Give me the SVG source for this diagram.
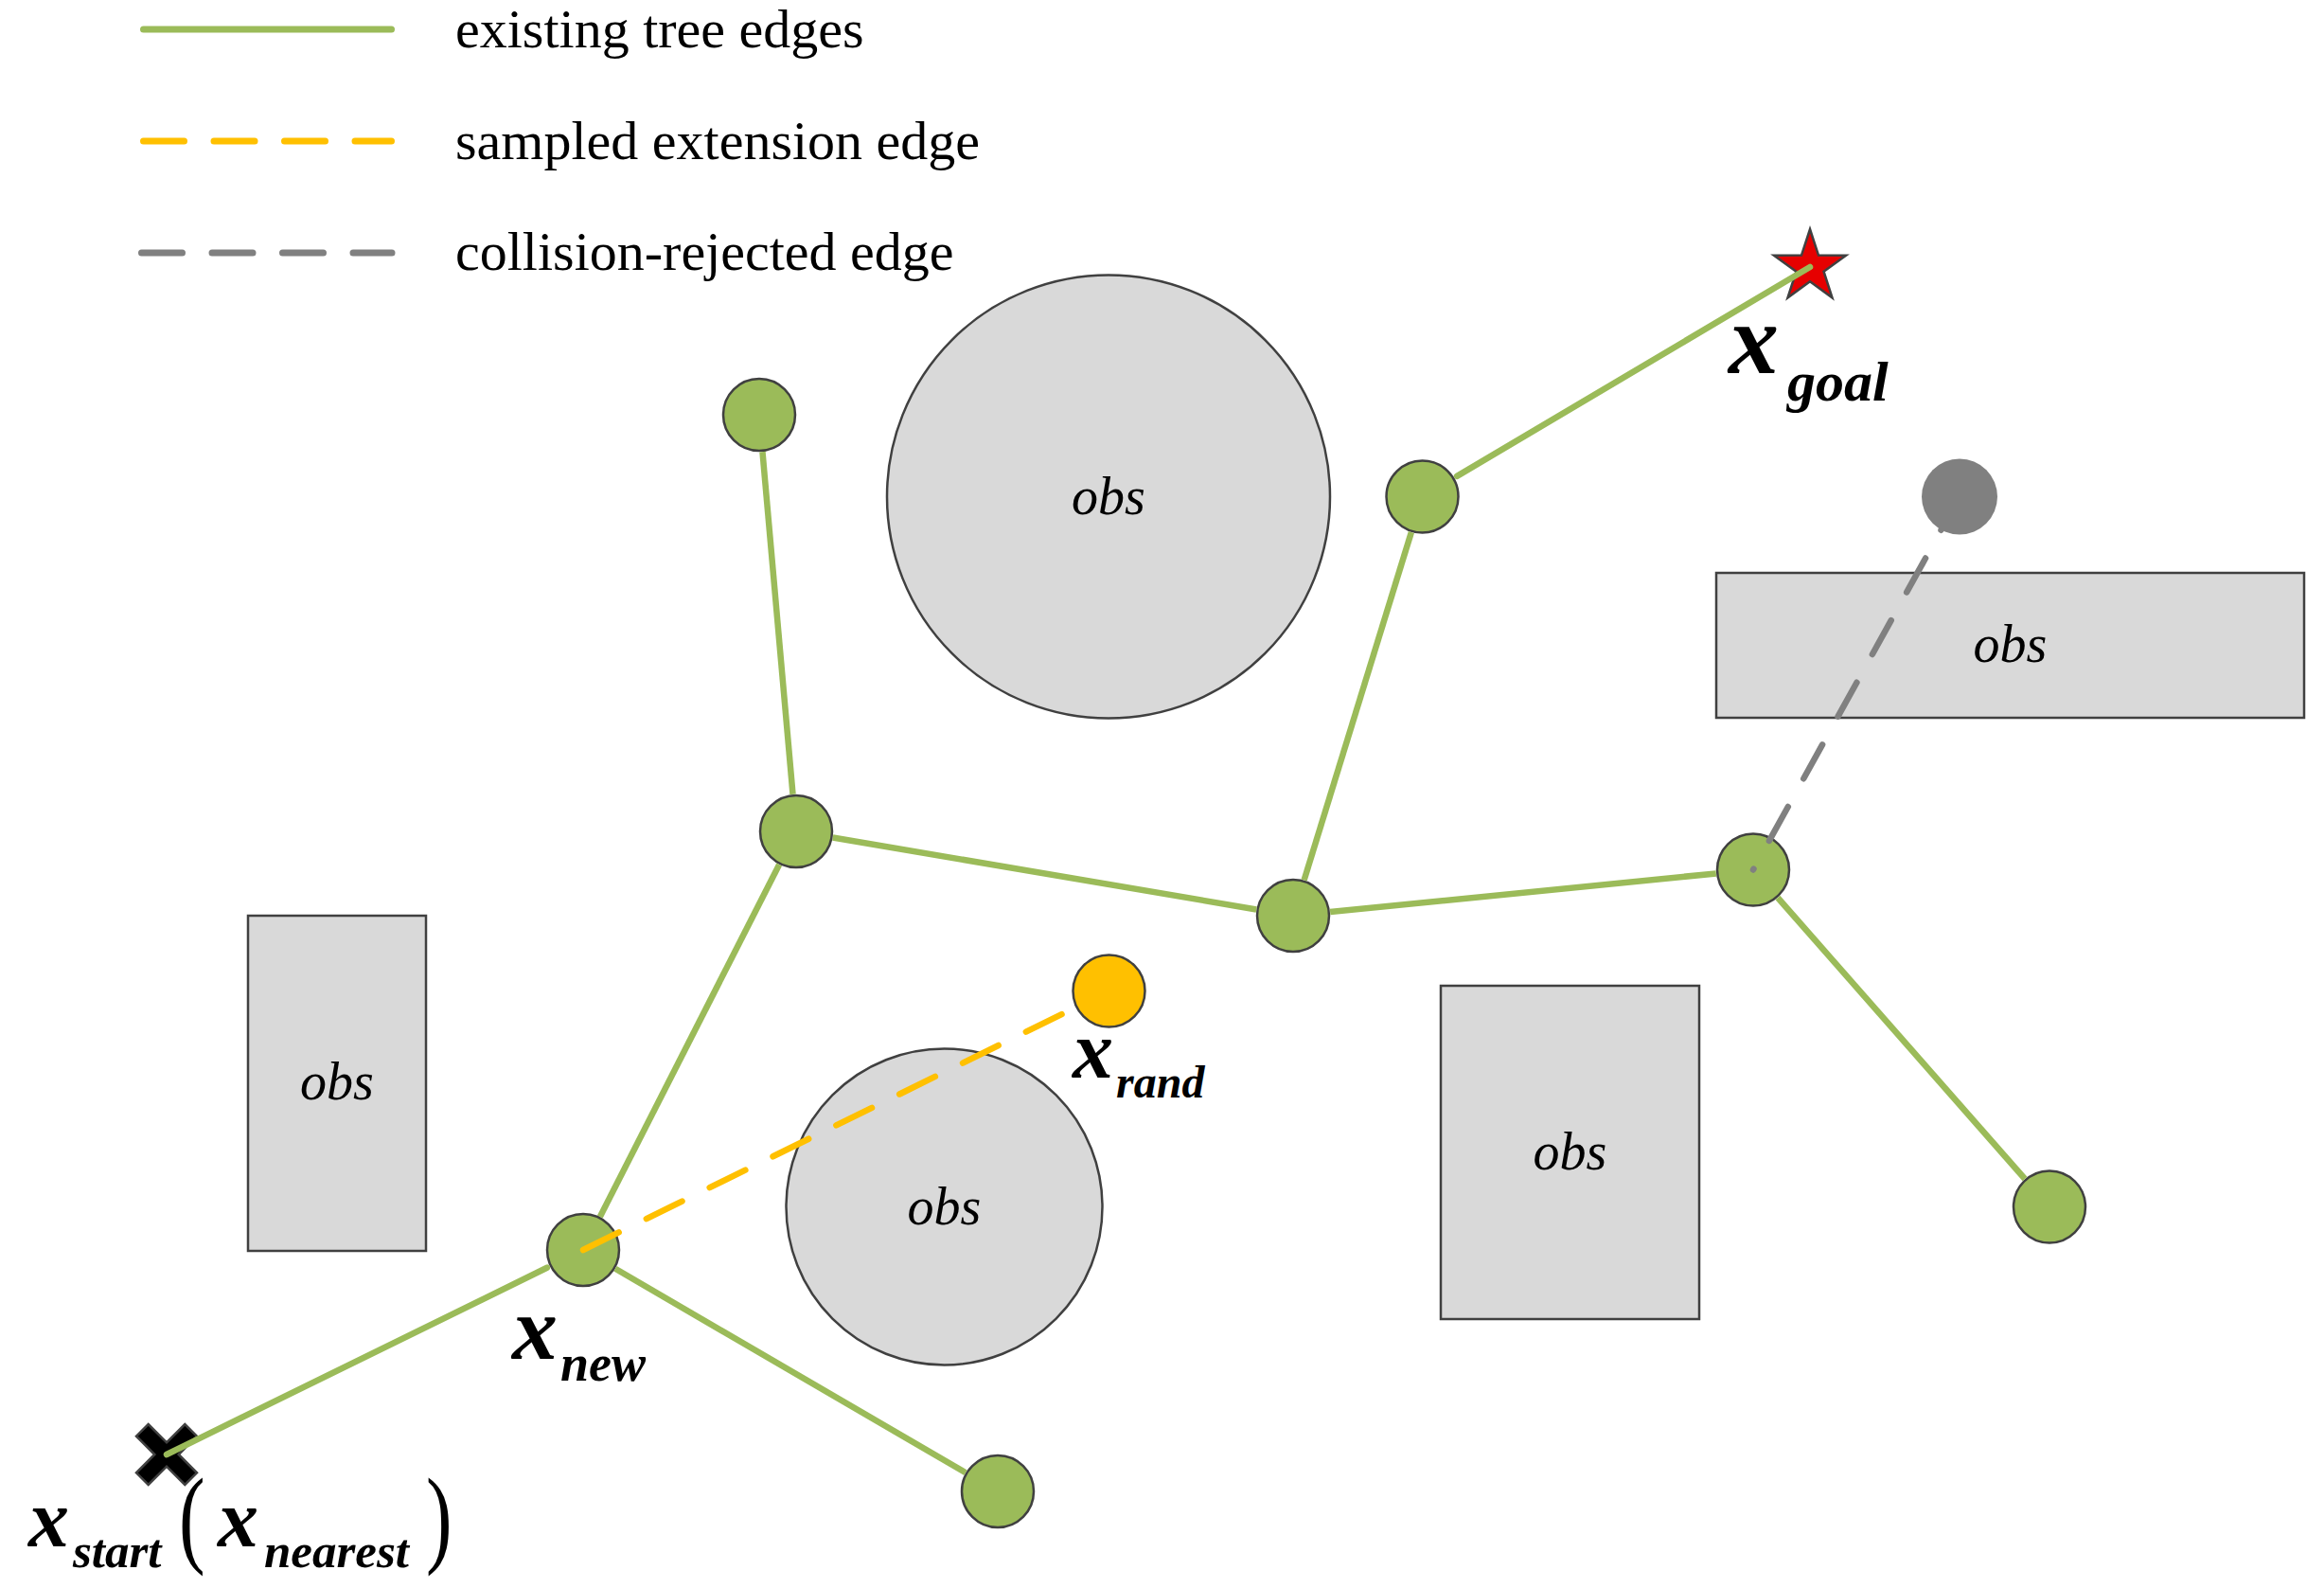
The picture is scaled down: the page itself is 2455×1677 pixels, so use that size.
<svg xmlns="http://www.w3.org/2000/svg" width="2455" height="1677" viewBox="0 0 2455 1677">
<style>
.legtxt{font-family:"Liberation Serif","Times New Roman",serif;font-size:58px;fill:#000}
.obs{fill:#D9D9D9;stroke:#404040;stroke-width:2.5}
.obstxt{font-family:"Liberation Serif","Times New Roman",serif;font-style:italic;font-size:56px;fill:#000;text-anchor:middle}
.node{fill:#9BBB59;stroke:#404040;stroke-width:2.5}
.rand{fill:#FFC000;stroke:#404040;stroke-width:2.5}
.rej{fill:#808080}
.tree{stroke:#9BBB59;stroke-width:6.5;fill:none;stroke-linecap:butt}
.treer{stroke:#9BBB59;stroke-width:6.5;fill:none;stroke-linecap:round}
.samp{stroke:#FFC000;stroke-width:6.5;fill:none;stroke-linecap:round;stroke-dasharray:42 32.5}
.coll{stroke:#808080;stroke-width:6.5;fill:none;stroke-linecap:round;stroke-dasharray:41 34;stroke-dashoffset:40}
.lab{font-family:"Liberation Serif","Times New Roman",serif;font-style:italic;font-weight:bold;fill:#000}
.par{font-family:"Liberation Serif","Times New Roman",serif;font-size:115px;fill:#000}
</style>
<rect width="2455" height="1677" fill="#FFFFFF"/>
<g id="legend">
<line x1="151.5" y1="31" x2="413.5" y2="31" stroke="#9BBB59" stroke-width="7" stroke-linecap="round"/>
<line x1="151.5" y1="149" x2="413.5" y2="149" stroke="#FFC000" stroke-width="7" stroke-linecap="round" stroke-dasharray="43 31.5"/>
<line x1="149.5" y1="267" x2="414" y2="267" stroke="#808080" stroke-width="7" stroke-linecap="round" stroke-dasharray="43 31.5"/>
<text class="legtxt" x="481" y="50">existing tree edges</text>
<text class="legtxt" x="481" y="168">sampled extension edge</text>
<text class="legtxt" x="481" y="285">collision-rejected edge</text>
</g>
<g id="obs-circle-large"><circle class="obs" cx="1171" cy="524.5" r="234"/><text class="obstxt" x="1171" y="543">obs</text></g>
<g id="obs-circle-small"><circle class="obs" cx="997.5" cy="1274.5" r="167"/><text class="obstxt" x="997.5" y="1293">obs</text></g>
<g id="obs-rect-left"><rect class="obs" x="262" y="967" width="188" height="354"/><text class="obstxt" x="356" y="1161">obs</text></g>
<g id="obs-rect-mid"><rect class="obs" x="1522" y="1041" width="273" height="352"/><text class="obstxt" x="1658.5" y="1235">obs</text></g>
<g id="obs-rect-right"><rect class="obs" x="1813" y="605" width="621" height="153"/><text class="obstxt" x="2123.5" y="699">obs</text></g>
<g id="start">
<polygon fill="#000" stroke="#404040" stroke-width="2.5" stroke-linejoin="miter" transform="translate(176,1536)" points="0,-12.7 19.3,-32 32,-19.3 12.7,0 32,19.3 19.3,32 0,12.7 -19.3,32 -32,19.3 -12.7,0 -32,-19.3 -19.3,-32"/>
<text class="lab" x="30" y="1633" font-size="86">x</text>
<text class="lab" x="77" y="1655" font-size="51">start</text>
<text class="par" transform="translate(189,1640) scale(0.72,1)">(</text>
<text class="lab" x="230" y="1633" font-size="86">x</text>
<text class="lab" x="279" y="1655" font-size="51">nearest</text>
<text class="par" transform="translate(450,1640) scale(0.72,1)">)</text>
</g>
<g id="goal">
<polygon fill="#E60000" stroke="#404040" stroke-width="2.5" points="1912,242 1920.99,269.62 1950.04,269.64 1926.55,286.73 1935.51,314.36 1912,297.3 1888.49,314.36 1897.45,286.73 1873.96,269.64 1903.01,269.62"/>
<text class="lab" x="1826" y="394" font-size="106">x</text>
<text class="lab" x="1888" y="423" font-size="60">goal</text>
</g>
<g id="node-new"><circle class="node" cx="616" cy="1320" r="38"/>
<text class="lab" x="541" y="1435" font-size="96">x</text>
<text class="lab" x="592" y="1458" font-size="54">new</text></g>
<g id="node-n1"><circle class="node" cx="802" cy="438" r="38"/></g>
<g id="node-n2"><circle class="node" cx="841" cy="878" r="38"/></g>
<g id="node-n3"><circle class="node" cx="1366" cy="967" r="38"/></g>
<g id="node-n4"><circle class="node" cx="1502.5" cy="524.5" r="38"/></g>
<g id="node-n5"><circle class="node" cx="1852" cy="918.5" r="38"/></g>
<g id="node-n6"><circle class="node" cx="2165" cy="1274.5" r="38"/></g>
<g id="node-n8"><circle class="node" cx="1054" cy="1575" r="38"/></g>
<g id="node-rand"><circle class="rand" cx="1171.5" cy="1046.5" r="38"/>
<text class="lab" x="1133" y="1138" font-size="86">x</text>
<text class="lab" x="1179" y="1159" font-size="48">rand</text></g>
<g id="node-rejected"><circle class="rej" cx="2070" cy="524.5" r="40"/></g>
<g id="connectors">
<line class="treer" x1="176" y1="1536" x2="577.85" y2="1338.73"/>
<line class="tree" x1="649.96" y1="1339.77" x2="1020.04" y2="1555.23"/>
<line class="tree" x1="633.83" y1="1284.98" x2="823.17" y2="913.02"/>
<line class="tree" x1="837.53" y1="838.85" x2="805.47" y2="477.15"/>
<line class="tree" x1="879.75" y1="884.57" x2="1327.25" y2="960.43"/>
<line class="tree" x1="1377.59" y1="929.45" x2="1490.91" y2="562.05"/>
<line class="treer" x1="1539.07" y1="502.85" x2="1912" y2="282"/>
<line class="tree" x1="1405.11" y1="963.1" x2="1812.89" y2="922.4"/>
<line class="tree" x1="1877.95" y1="948.01" x2="2139.05" y2="1244.99"/>
<line class="samp" x1="616" y1="1320" x2="1136.51" y2="1063.73"/>
<line class="coll" x1="1852" y1="918.5" x2="2070" y2="524.5"/>
</g>
</svg>
